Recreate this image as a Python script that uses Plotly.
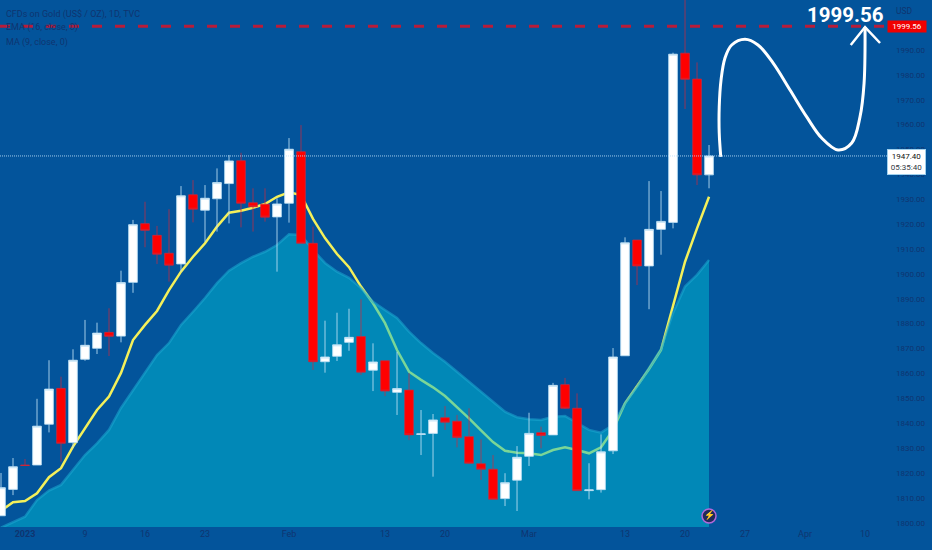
import plotly.graph_objects as go

##___Data___
days = list(range(60))

opens = [1802.8, 1813.4, 1823.2, 1823.2, 1839.6, 1854.0, 1832.2, 1865.7, 1870.1, 1876.5,
         1875.0, 1896.6, 1920.2, 1915.5, 1908.3, 1904.0, 1931.8, 1925.6, 1930.2, 1936.3,
         1945.5, 1928.6, 1928.0, 1922.9, 1928.4, 1949.1, 1912.3, 1864.7, 1866.9, 1872.5,
         1874.8, 1861.3, 1865.1, 1852.4, 1853.3, 1835.5, 1835.9, 1842.2, 1840.8, 1834.6,
         1823.7, 1821.5, 1809.7, 1817.1, 1826.7, 1836.2, 1835.3, 1855.5, 1846.0, 1812.9,
         1813.3, 1828.9, 1867.1, 1913.6, 1903.2, 1917.9, 1920.7, 1988.7, 1978.3, 1939.8]
highs = [1820.0, 1826.0, 1825.6, 1849.8, 1865.3, 1858.7, 1869.7, 1881.5, 1880.4, 1886.2,
         1901.3, 1921.7, 1929.0, 1919.3, 1926.0, 1935.3, 1937.7, 1935.7, 1942.4, 1947.8,
         1948.7, 1934.4, 1934.4, 1930.4, 1954.6, 1959.8, 1919.0, 1881.2, 1884.4, 1886.0,
         1889.8, 1872.1, 1865.1, 1868.7, 1860.1, 1845.3, 1843.7, 1846.9, 1843.3, 1846.0,
         1833.5, 1827.2, 1819.9, 1830.8, 1844.2, 1838.6, 1856.2, 1858.2, 1852.0, 1823.9,
         1835.5, 1870.2, 1914.7, 1913.6, 1937.3, 1933.3, 1988.9, 2012.0, 1985.0, 1951.8]
lows = [1802.8, 1811.1, 1822.9, 1823.2, 1836.3, 1824.5, 1830.0, 1865.1, 1867.8, 1867.0,
        1872.5, 1892.4, 1910.7, 1904.0, 1896.9, 1900.9, 1920.7, 1912.9, 1917.0, 1920.3,
        1918.7, 1917.0, 1921.0, 1900.9, 1920.6, 1912.3, 1861.4, 1860.3, 1865.0, 1869.1,
        1859.4, 1852.9, 1850.9, 1843.3, 1833.2, 1827.2, 1818.5, 1837.3, 1830.3, 1823.6,
        1817.2, 1809.4, 1806.7, 1804.7, 1822.8, 1829.9, 1835.3, 1845.7, 1812.9, 1809.4,
        1812.1, 1827.6, 1867.1, 1895.5, 1885.8, 1907.7, 1918.3, 1966.3, 1935.7, 1934.4]
closes = [1814.1, 1822.5, 1823.0, 1838.8, 1853.7, 1831.9, 1865.3, 1871.3, 1876.2, 1874.9,
          1896.5, 1919.8, 1917.5, 1907.9, 1903.5, 1931.4, 1926.0, 1930.4, 1936.7, 1945.4,
          1928.4, 1927.0, 1922.8, 1928.1, 1950.1, 1912.3, 1864.7, 1866.6, 1871.5, 1874.5,
          1860.5, 1864.6, 1852.9, 1853.9, 1835.3, 1835.7, 1841.3, 1840.4, 1834.3, 1823.9,
          1821.5, 1809.4, 1816.1, 1826.3, 1835.9, 1835.1, 1855.2, 1846.0, 1812.9, 1813.2,
          1828.5, 1866.6, 1912.5, 1903.2, 1917.9, 1921.1, 1988.3, 1978.2, 1939.8, 1947.4]

ema_16 = [1804.8, 1808.2, 1808.7, 1811.8, 1818.3, 1821.9, 1830.6, 1838.0, 1845.3, 1850.7,
          1860.2, 1873.4, 1879.5, 1885.1, 1893.5, 1900.9, 1906.9, 1912.3, 1919.0, 1924.6,
          1925.4, 1926.6, 1928.1, 1931.0, 1932.8, 1931.7, 1922.1, 1914.4, 1908.0, 1902.7,
          1894.9, 1888.2, 1880.2, 1869.4, 1860.7, 1857.4, 1854.4, 1850.9, 1846.5, 1841.9,
          1837.1, 1832.4, 1828.9, 1828.1, 1827.9, 1827.2, 1829.2, 1830.3, 1829.2, 1827.9,
          1830.3, 1837.3, 1848.0, 1854.7, 1861.8, 1869.4, 1886.8, 1904.9, 1918.3, 1931.0]
ma_9 = [1798.0, 1800.3, 1802.4, 1809.1, 1812.9, 1815.2, 1821.2, 1827.2, 1831.9, 1837.3,
        1846.1, 1853.3, 1860.7, 1867.4, 1872.2, 1879.5, 1884.8, 1890.3, 1896.3, 1901.3,
        1904.3, 1906.9, 1908.9, 1911.6, 1915.9, 1915.6, 1909.6, 1904.4, 1900.9, 1898.4,
        1894.3, 1888.8, 1885.5, 1882.3, 1876.8, 1872.2, 1868.2, 1864.7, 1860.7, 1856.7,
        1852.7, 1848.6, 1844.6, 1842.4, 1841.6, 1841.3, 1842.6, 1842.9, 1840.2, 1837.3,
        1836.2, 1839.3, 1848.1, 1854.7, 1862.2, 1869.8, 1884.3, 1894.9, 1899.6, 1905.6]

# hand drawn arrow on top of the chart
curve_x = [59.98, 59.85, 59.85, 60.0, 60.33, 60.89, 62.0, 63.08, 64.33, 65.75, 67.14,
           68.39, 69.75, 70.89, 71.58, 71.92, 72.0]
curve_y = [1947.0, 1956.6, 1967.1, 1977.9, 1986.8, 1992.0, 1994.3, 1992.0, 1984.8, 1973.9,
           1963.1, 1954.6, 1949.8, 1952.6, 1963.1, 1976.7, 1999.2]
head_x = [70.81, 72.0, 73.25]
head_y = [1992.0, 1999.2, 1992.8]

x_tick_pos = [2, 7, 12, 17, 24, 32, 37, 44, 52, 57, 62, 67, 72]
x_tick_text = ["<b>2023</b>", "9", "16", "23", "Feb", "13", "20", "Mar", "13", "20", "27", "Apr", "10"]
y_ticks = list(range(1800, 2000, 10))

target_price = 1999.56
last_price = 1947.40
countdown = "05:35:40"

##___Styles___
BG = "#03549b"
AXIS_TEXT = "#0f3470"
FONT = "Roboto, sans-serif"
X_RANGE = [-0.083, 73.83]
Y_RANGE = [1798.28, 2010.08]

fig = go.Figure()

fig.add_trace(go.Scatter(
    x=days, y=ema_16, mode="lines",
    line=dict(color="#f4f05a", width=2.5),
))
# MA sits over the EMA, which is why the yellow line looks green inside the area
fig.add_trace(go.Scatter(
    x=days, y=ma_9, mode="lines", fill="tozeroy",
    line=dict(color="rgba(30,170,210,0.55)", width=2.5),
    fillcolor="rgba(0,188,212,0.5)",
))

fig.add_trace(go.Candlestick(
    x=days, open=opens, high=highs, low=lows, close=closes,
    xaxis="x2", yaxis="y2",
    increasing=dict(fillcolor="#ffffff", line=dict(color="rgba(190,225,245,0.85)", width=1)),
    decreasing=dict(fillcolor="#ff0000", line=dict(color="rgba(210,40,60,0.7)", width=1)),
    whiskerwidth=0,
))

fig.add_trace(go.Scatter(
    x=curve_x, y=curve_y, mode="lines", xaxis="x2", yaxis="y2",
    line=dict(color="#ffffff", width=3, shape="spline", smoothing=1),
))
fig.add_trace(go.Scatter(
    x=head_x, y=head_y, mode="lines", xaxis="x2", yaxis="y2",
    line=dict(color="#ffffff", width=2.5),
))
# flash icon under the last bar
fig.add_trace(go.Scatter(
    x=[days[-1]], y=[1802.7], mode="markers+text", xaxis="x2", yaxis="y2",
    marker=dict(size=14, color="#1f2a5c", line=dict(color="#b268d8", width=1.5)),
    text=["⚡"], textposition="middle center",
    textfont=dict(size=9, color="#e58ad0"),
))

fig.add_shape(type="line", xref="paper", x0=0, x1=1, yref="y", y0=target_price, y1=target_price,
              line=dict(color="#b81c3a", width=3, dash="10px,13px"))
fig.add_shape(type="line", xref="paper", x0=0, x1=1, yref="y", y0=last_price, y1=last_price,
              line=dict(color="rgba(190,225,250,0.85)", width=1, dash="1px,1px"))

legend_lines = [("CFDs on Gold (US$ / OZ), 1D, TVC", 14), ("EMA (16, close, 0)", 28), ("MA (9, close, 0)", 42)]
for txt, py in legend_lines:
    fig.add_annotation(text=txt, xref="paper", yref="paper", x=0, y=1 - py / 527,
                       xanchor="left", yanchor="middle", xshift=4, showarrow=False,
                       font=dict(family=FONT, size=9, color=AXIS_TEXT))

fig.add_annotation(text="USD", xref="paper", yref="paper", x=1, y=1 - 11 / 527,
                   xanchor="left", yanchor="middle", xshift=7, showarrow=False,
                   font=dict(family=FONT, size=8.5, color=AXIS_TEXT))
fig.add_annotation(text=f"<b>{target_price}</b>", xref="x2", yref="paper", x=70.4, y=1 - 15 / 527,
                   xanchor="center", yanchor="middle", showarrow=False,
                   font=dict(family=FONT, size=20.5, color="#ffffff"))
fig.add_annotation(text=f"{target_price}", xref="paper", yref="y", x=1, y=target_price,
                   xanchor="left", yanchor="middle", showarrow=False, width=38, height=11, borderpad=0,
                   bgcolor="#f00000", font=dict(family=FONT, size=8, color="#ffffff"))
fig.add_annotation(text=f"<span style='color:#111'>{last_price:.2f}</span><br>{countdown}",
                   xref="paper", yref="y", x=1, y=last_price, yshift=-6,
                   xanchor="left", yanchor="middle", showarrow=False, width=37, height=24, borderpad=0,
                   bgcolor="#ffffff", bordercolor="#9fd0ee", borderwidth=1,
                   font=dict(family=FONT, size=8, color="#333a44"))

fig.update_layout(
    width=932, height=550,
    margin=dict(l=0, r=45, t=0, b=23),
    paper_bgcolor=BG, plot_bgcolor=BG,
    showlegend=False,
    boxgap=0.15, boxgroupgap=0.15,
    xaxis=dict(range=X_RANGE, tickmode="array", tickvals=x_tick_pos, ticktext=x_tick_text,
               showgrid=False, zeroline=False, showline=False, ticks="",
               tickfont=dict(family=FONT, size=9, color=AXIS_TEXT)),
    yaxis=dict(range=Y_RANGE, side="right", tickmode="array", tickvals=y_ticks,
               tickformat=".2f", showgrid=False, zeroline=False, showline=False, ticks="",
               ticklabelstandoff=8, tickfont=dict(family=FONT, size=8, color=AXIS_TEXT)),
    xaxis2=dict(range=X_RANGE, overlaying="x", visible=False, rangeslider=dict(visible=False)),
    yaxis2=dict(range=Y_RANGE, overlaying="y", visible=False),
)

fig.write_html("out.html", config={"displayModeBar": False},
               post_script="document.body.style.margin='0'")
